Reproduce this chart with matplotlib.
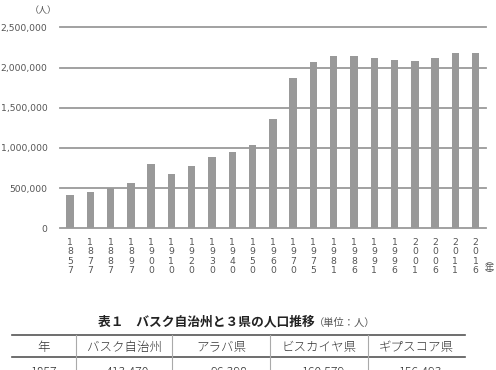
import matplotlib
matplotlib.use("Agg")
import matplotlib.pyplot as plt
from matplotlib.lines import Line2D

years = ["1857", "1877", "1887", "1897", "1900", "1910", "1920", "1930", "1940", "1950",
         "1960", "1970", "1975", "1981", "1986", "1991", "1996", "2001", "2006", "2011", "2016"]
population = [413470, 452000, 506000, 560000, 804000, 672000, 776000, 884000, 950000, 1037000,
              1356000, 1867000, 2071000, 2137000, 2137000, 2112000, 2096000, 2083000, 2124000,
              2179000, 2179000]
yticks = [0, 500000, 1000000, 1500000, 2000000, 2500000]
ytick_labels = ["0", "500,000", "1,000,000", "1,500,000", "2,000,000", "2,500,000"]

table_title = "表１　バスク自治州と３県の人口推移"
table_unit = "（単位：人）"
table_header = ["年", "バスク自治州", "アラバ県", "ビスカイヤ県", "ギプスコア県"]
table_row = ["1857", "413,470", "96,398", "160,579", "156,493"]

W, H = 496, 370
fig = plt.figure(figsize=(W / 100, H / 100), dpi=100)

def fx(px):
    return px / W

def fy(py):
    return 1 - py / H

n = len(years)
left_px, right_px = 60, 486
top_px, bottom_px = 27.3, 228.3
ax = fig.add_axes([fx(left_px), fy(bottom_px), fx(right_px - left_px), (bottom_px - top_px) / H])
first_c, last_c = 70.0, 475.7
step = (last_c - first_c) / (n - 1)
x0 = -(first_c - left_px) / step
x1 = (n - 1) + (right_px - last_c) / step
ax.set_xlim(x0, x1)
ax.set_ylim(0, 2500000)
for s in ax.spines.values():
    s.set_visible(False)
ax.set_facecolor("none")
for v in yticks:
    ax.axhline(v, color="#9a9a9a", lw=1.3, zorder=1, clip_on=False)
xs = list(range(n))
ax.bar(xs, population, width=0.37, color="#999999", zorder=2)

ax.set_yticks(yticks)
ax.set_yticklabels(ytick_labels, fontsize=6.7, color="#555555", family="DejaVu Sans")
ax.tick_params(axis="y", length=0, pad=9)
ax.set_xticks(xs)
ax.set_xticklabels(["\n".join(y) for y in years], fontsize=6.7, color="#555555",
                   family="DejaVu Sans", linespacing=1.05)
ax.tick_params(axis="x", length=0, pad=7)

cjk = ["Noto Sans CJK JP", "DejaVu Sans"]
fig.text(fx(43.5), fy(10.7), "（人）", fontsize=6.5, color="#555555", family=cjk,
         ha="center", va="center")
fig.text(fx(489), fy(268), "︵\n年\n︶", fontsize=6.5, color="#555555", family=cjk,
         ha="center", va="center", linespacing=0.65)

# table title
fig.text(fx(98), fy(321.7), table_title, fontsize=9.2, color="#222222", family=cjk,
         weight="bold", ha="left", va="center")
fig.text(fx(314), fy(322.5), table_unit, fontsize=7.4, color="#555555", family=cjk,
         ha="left", va="center")

# table lines
tl, tr = 12, 465
for yy in (335, 357.3):
    fig.add_artist(Line2D([fx(tl), fx(tr)], [fy(yy), fy(yy)], color="#555555", lw=1.2))
seps = [76, 172, 270, 368]
for xx in seps:
    fig.add_artist(Line2D([fx(xx), fx(xx)], [fy(335), fy(372)], color="#aaaaaa", lw=0.8))

col_bounds = [tl] + seps + [tr]
for i, h in enumerate(table_header):
    c = (col_bounds[i] + col_bounds[i + 1]) / 2
    fig.text(fx(c), fy(347.5), h, fontsize=9, color="#333333", family=cjk,
             weight="light", ha="center", va="center")
for i, v in enumerate(table_row):
    if i == 0:
        c = (col_bounds[0] + col_bounds[1]) / 2
        fig.text(fx(c), fy(372.5), v, fontsize=9, color="#333333", family=cjk,
                 weight="light", ha="center", va="center")
    else:
        fig.text(fx(col_bounds[i + 1] - 23), fy(372.5), v, fontsize=9, color="#333333",
                 family=cjk, weight="light", ha="right", va="center")

fig.savefig("out.png", dpi=100)
